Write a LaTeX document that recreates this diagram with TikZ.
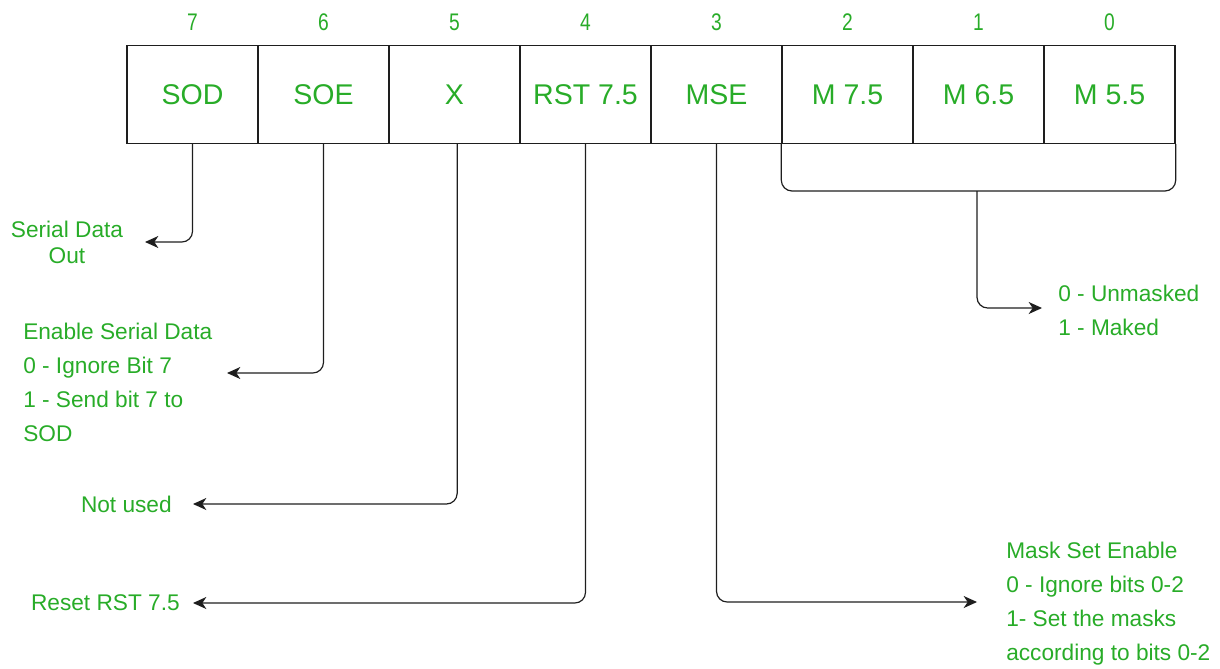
\documentclass[tikz,border=0pt]{standalone}
\usepackage{fontspec}
\setmainfont{Liberation Sans}
\newfontfamily\narrowfont[FakeStretch=0.8]{Liberation Sans}
\usetikzlibrary{arrows.meta}
\definecolor{gfg}{RGB}{40,172,40}
\definecolor{ln}{RGB}{30,30,30}
\begin{document}
\begin{tikzpicture}[x=0.75pt,y=-0.75pt,
  cell/.style={draw=ln, line width=1pt, minimum width=98.25pt, minimum height=73.5pt, inner sep=0pt, text=gfg, font=\fontsize{21.4}{25}\selectfont},
  bitnum/.style={text=gfg, font=\narrowfont\fontsize{18}{20}\selectfont, inner sep=0pt},
  lbl/.style={text=gfg, font=\fontsize{17}{25.5}\selectfont, inner sep=0pt},
  wire/.style={draw=ln, line width=0.9pt, rounded corners=8pt},
  conn/.style={wire, -{Stealth[length=10pt,width=9pt,inset=3pt]}}]
\useasboundingbox (0,0) rectangle (1220,668);

% register cells
\node[cell] (sod) at (192.5,94.5) {SOD};
\node[cell] (soe) at (323.5,94.5) {SOE};
\node[cell] (xx)  at (454.5,94.5) {X};
\node[cell] (rst) at (585.5,94.5) {RST 7.5};
\node[cell] (mse) at (716.5,94.5) {MSE};
\node[cell] (m75) at (847.5,94.5) {M 7.5};
\node[cell] (m65) at (978.5,94.5) {M 6.5};
\node[cell] (m55) at (1109.5,94.5) {M 5.5};

% bit numbers
\node[bitnum] (b7) at (192.5,22) {7};
\node[bitnum] (b6) at (323.5,22) {6};
\node[bitnum] (b5) at (454.5,22) {5};
\node[bitnum] (b4) at (585.5,22) {4};
\node[bitnum] (b3) at (716.5,22) {3};
\node[bitnum] (b2) at (847.5,22) {2};
\node[bitnum] (b1) at (978.5,22) {1};
\node[bitnum] (b0) at (1109.5,22) {0};

% descriptions
\node[lbl, align=center, font=\fontsize{17}{19.5}\selectfont] (tsod) at (67,242) {Serial Data\\Out};
\node[lbl, align=left, anchor=west] (tsoe) at (23,382.5) {Enable Serial Data\\0 - Ignore Bit 7\\1 - Send bit 7 to\\SOD};
\node[lbl, anchor=east] (tx) at (172,504) {Not used};
\node[lbl, anchor=east] (trst) at (180,603) {Reset RST 7.5};
\node[lbl, align=left, anchor=west] (tm) at (1058,310) {0 - Unmasked\\1 - Maked};
\node[lbl, align=left, anchor=west] (tmse) at (1006,603.5) {Mask Set Enable\\0 - Ignore bits 0-2\\1- Set the masks\\according to bits 0-2};

% arrow end points
\coordinate (asod) at (145,242);
\coordinate (asoe) at (227,373);
\coordinate (ax)   at (193,504);
\coordinate (arst) at (193,603);
\coordinate (amse) at (977,602);
\coordinate (brk)  at (977,191);
\coordinate (am)   at (1042,308);

% connectors
\draw[conn] (sod.south) |- (asod);
\draw[conn] (soe.south) |- (asoe);
\draw[conn] ([xshift=2pt]xx.south)  |- (ax);
\draw[conn] (rst.south) |- (arst);
\draw[conn] (mse.south) |- (amse);
\draw[wire] (m75.south west) |- (brk) -| (m55.south east);
\draw[conn] (brk) |- (am);
\end{tikzpicture}
\end{document}
